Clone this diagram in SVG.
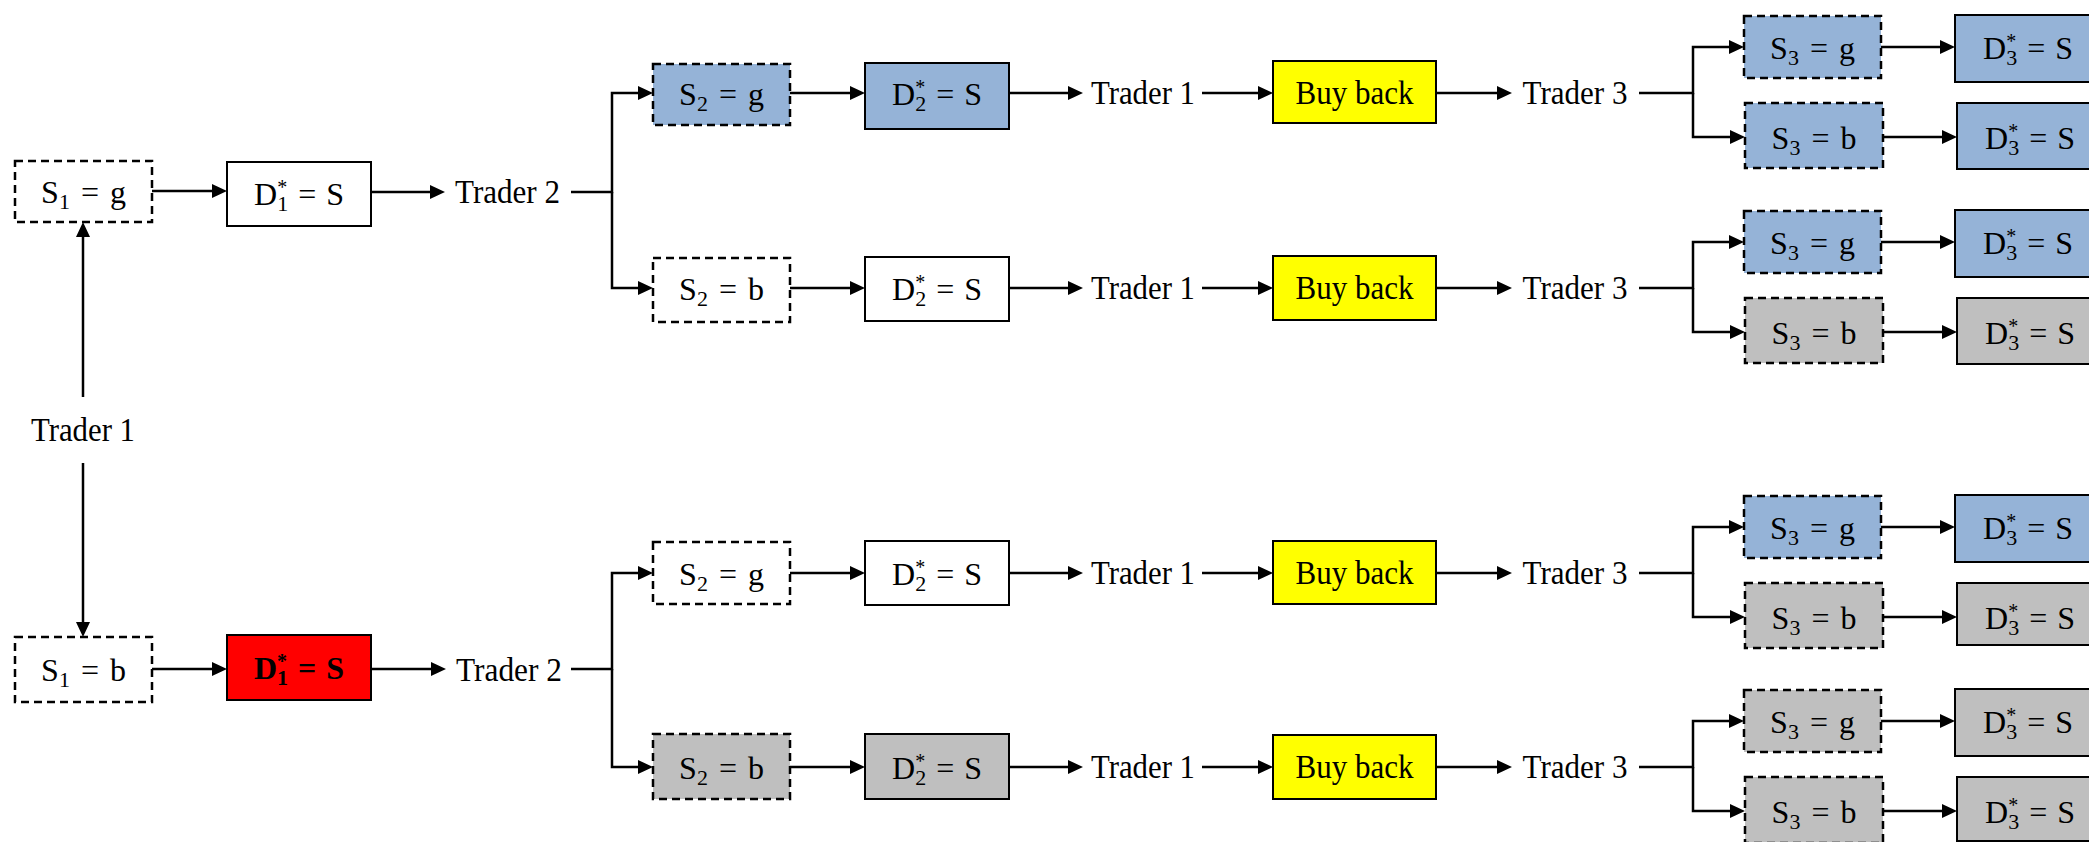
<svg xmlns="http://www.w3.org/2000/svg" width="2089" height="842" viewBox="0 0 2089 842">
<style>
.box{stroke:#000;stroke-width:2}
.dash{stroke:#000;stroke-width:2.5;stroke-dasharray:8 5}
.w{fill:#fff}.bl{fill:#95B3D7}.gr{fill:#BFBFBF}.ye{fill:#FFFF00}.rd{fill:#FF0000}
.m{font-family:"Liberation Serif","Times New Roman",serif;font-size:32px;fill:#000;text-anchor:middle}
.t{font-family:"Liberation Serif","Times New Roman",serif;font-size:33px;fill:#000;text-anchor:middle}
.sub{font-size:22px}
.sup{font-size:20px}
.b{font-weight:bold}
.c{fill:none;stroke:#000;stroke-width:2.5}
</style>
<defs>
<marker id="ah" markerUnits="userSpaceOnUse" markerWidth="16" markerHeight="14" refX="5" refY="7" orient="auto">
<path d="M0,0 L15,7 L0,14 z" fill="#000"/>
</marker>
</defs>
<rect width="2089" height="842" fill="#fff"/>

<g id="connectors" class="c" marker-end="url(#ah)">
<path d="M152,191 H217"/>
<path d="M371,192 H435"/>
<path d="M83,397 V232"/>
<path d="M83,463 V627"/>
<path d="M152,669 H217"/>
<path d="M371,669 H436"/>
<path d="M571,192 H612 V93 H643"/>
<path d="M612,192 V288 H643"/>
<path d="M571,669 H612 V573 H643"/>
<path d="M612,669 V767 H643"/>
<!-- row A R=93 -->
<path d="M790,93 H855"/><path d="M1009,93 H1073"/><path d="M1202,93 H1263"/><path d="M1436,93 H1502"/>
<path d="M1639,93 H1693 V47 H1734"/><path d="M1693,93 V137 H1735"/>
<path d="M1881,47 H1945"/><path d="M1883,137 H1947"/>
<!-- row B R=288 -->
<path d="M790,288 H855"/><path d="M1009,288 H1073"/><path d="M1202,288 H1263"/><path d="M1436,288 H1502"/>
<path d="M1639,288 H1693 V242 H1734"/><path d="M1693,288 V332 H1735"/>
<path d="M1881,242 H1945"/><path d="M1883,332 H1947"/>
<!-- row C R=573 -->
<path d="M790,573 H855"/><path d="M1009,573 H1073"/><path d="M1202,573 H1263"/><path d="M1436,573 H1502"/>
<path d="M1639,573 H1693 V527 H1734"/><path d="M1693,573 V617 H1735"/>
<path d="M1881,527 H1945"/><path d="M1883,617 H1947"/>
<!-- row D R=767 -->
<path d="M790,767 H855"/><path d="M1009,767 H1073"/><path d="M1202,767 H1263"/><path d="M1436,767 H1502"/>
<path d="M1639,767 H1693 V721 H1734"/><path d="M1693,767 V811 H1735"/>
<path d="M1881,721 H1945"/><path d="M1883,811 H1947"/>
</g>

<!-- left column -->
<g id="s1g"><rect class="dash w" x="15" y="161" width="137" height="61"/><text class="m" x="83.5" y="203">S<tspan class="sub" dy="6">1</tspan><tspan dy="-6" dx="11">=</tspan><tspan dx="11">g</tspan></text></g>
<g id="d1g"><rect class="box w" x="227" y="162" width="144" height="64"/><text class="m" x="299" y="205">D<tspan class="sup" dy="-11">*</tspan><tspan class="sub" dx="-10" dy="17">1</tspan><tspan dy="-6" dx="10">=</tspan><tspan dx="10">S</tspan></text></g>
<g id="trader1-left"><text class="t" x="83" y="441" textLength="104" lengthAdjust="spacingAndGlyphs">Trader 1</text></g>
<g id="s1b"><rect class="dash w" x="15" y="637" width="137" height="65"/><text class="m" x="83.5" y="681">S<tspan class="sub" dy="6">1</tspan><tspan dy="-6" dx="11">=</tspan><tspan dx="11">b</tspan></text></g>
<g id="d1b"><rect class="box rd" x="227" y="635" width="144" height="65"/><text class="m b" x="299" y="679">D<tspan class="sup" dy="-11">*</tspan><tspan class="sub" dx="-10" dy="17">1</tspan><tspan dy="-6" dx="10">=</tspan><tspan dx="10">S</tspan></text></g>
<g id="trader2-up"><text class="t" x="507.5" y="203" textLength="105" lengthAdjust="spacingAndGlyphs">Trader 2</text></g>
<g id="trader2-low"><text class="t" x="509" y="681" textLength="106" lengthAdjust="spacingAndGlyphs">Trader 2</text></g>

<!-- Row A -->
<g id="rowA-s2"><rect class="dash bl" x="653" y="64" width="137" height="61"/><text class="m" x="721.5" y="105">S<tspan class="sub" dy="6">2</tspan><tspan dy="-6" dx="11">=</tspan><tspan dx="11">g</tspan></text></g>
<g id="rowA-d2"><rect class="box bl" x="865" y="63" width="144" height="66"/><text class="m" x="937" y="105">D<tspan class="sup" dy="-11">*</tspan><tspan class="sub" dx="-10" dy="17">2</tspan><tspan dy="-6" dx="10">=</tspan><tspan dx="10">S</tspan></text></g>
<g id="rowA-t1"><text class="t" x="1143" y="104" textLength="104" lengthAdjust="spacingAndGlyphs">Trader 1</text></g>
<g id="rowA-bb"><rect class="box ye" x="1273" y="61" width="163" height="62"/><text class="t" x="1354.5" y="104" textLength="118" lengthAdjust="spacingAndGlyphs">Buy back</text></g>
<g id="rowA-t3"><text class="t" x="1575" y="104" textLength="105" lengthAdjust="spacingAndGlyphs">Trader 3</text></g>
<g id="rowA-s3g"><rect class="dash bl" x="1744" y="16" width="137" height="62"/><text class="m" x="1812.5" y="59">S<tspan class="sub" dy="6">3</tspan><tspan dy="-6" dx="11">=</tspan><tspan dx="11">g</tspan></text></g>
<g id="rowA-d3g"><rect class="box bl" x="1955" y="15" width="146" height="67"/><text class="m" x="2028" y="59">D<tspan class="sup" dy="-11">*</tspan><tspan class="sub" dx="-10" dy="17">3</tspan><tspan dy="-6" dx="10">=</tspan><tspan dx="10">S</tspan></text></g>
<g id="rowA-s3b"><rect class="dash bl" x="1745" y="103" width="138" height="65"/><text class="m" x="1814" y="149">S<tspan class="sub" dy="6">3</tspan><tspan dy="-6" dx="11">=</tspan><tspan dx="11">b</tspan></text></g>
<g id="rowA-d3b"><rect class="box bl" x="1957" y="103" width="146" height="66"/><text class="m" x="2030" y="149">D<tspan class="sup" dy="-11">*</tspan><tspan class="sub" dx="-10" dy="17">3</tspan><tspan dy="-6" dx="10">=</tspan><tspan dx="10">S</tspan></text></g>

<!-- Row B -->
<g id="rowB-s2"><rect class="dash w" x="653" y="258" width="137" height="64"/><text class="m" x="721.5" y="300">S<tspan class="sub" dy="6">2</tspan><tspan dy="-6" dx="11">=</tspan><tspan dx="11">b</tspan></text></g>
<g id="rowB-d2"><rect class="box w" x="865" y="257" width="144" height="64"/><text class="m" x="937" y="300">D<tspan class="sup" dy="-11">*</tspan><tspan class="sub" dx="-10" dy="17">2</tspan><tspan dy="-6" dx="10">=</tspan><tspan dx="10">S</tspan></text></g>
<g id="rowB-t1"><text class="t" x="1143" y="299" textLength="104" lengthAdjust="spacingAndGlyphs">Trader 1</text></g>
<g id="rowB-bb"><rect class="box ye" x="1273" y="256" width="163" height="64"/><text class="t" x="1354.5" y="299" textLength="118" lengthAdjust="spacingAndGlyphs">Buy back</text></g>
<g id="rowB-t3"><text class="t" x="1575" y="299" textLength="105" lengthAdjust="spacingAndGlyphs">Trader 3</text></g>
<g id="rowB-s3g"><rect class="dash bl" x="1744" y="211" width="137" height="62"/><text class="m" x="1812.5" y="254">S<tspan class="sub" dy="6">3</tspan><tspan dy="-6" dx="11">=</tspan><tspan dx="11">g</tspan></text></g>
<g id="rowB-d3g"><rect class="box bl" x="1955" y="210" width="146" height="67"/><text class="m" x="2028" y="254">D<tspan class="sup" dy="-11">*</tspan><tspan class="sub" dx="-10" dy="17">3</tspan><tspan dy="-6" dx="10">=</tspan><tspan dx="10">S</tspan></text></g>
<g id="rowB-s3b"><rect class="dash gr" x="1745" y="298" width="138" height="65"/><text class="m" x="1814" y="344">S<tspan class="sub" dy="6">3</tspan><tspan dy="-6" dx="11">=</tspan><tspan dx="11">b</tspan></text></g>
<g id="rowB-d3b"><rect class="box gr" x="1957" y="298" width="146" height="66"/><text class="m" x="2030" y="344">D<tspan class="sup" dy="-11">*</tspan><tspan class="sub" dx="-10" dy="17">3</tspan><tspan dy="-6" dx="10">=</tspan><tspan dx="10">S</tspan></text></g>

<!-- Row C -->
<g id="rowC-s2"><rect class="dash w" x="653" y="542" width="137" height="62"/><text class="m" x="721.5" y="585">S<tspan class="sub" dy="6">2</tspan><tspan dy="-6" dx="11">=</tspan><tspan dx="11">g</tspan></text></g>
<g id="rowC-d2"><rect class="box w" x="865" y="541" width="144" height="64"/><text class="m" x="937" y="585">D<tspan class="sup" dy="-11">*</tspan><tspan class="sub" dx="-10" dy="17">2</tspan><tspan dy="-6" dx="10">=</tspan><tspan dx="10">S</tspan></text></g>
<g id="rowC-t1"><text class="t" x="1143" y="584" textLength="104" lengthAdjust="spacingAndGlyphs">Trader 1</text></g>
<g id="rowC-bb"><rect class="box ye" x="1273" y="541" width="163" height="63"/><text class="t" x="1354.5" y="584" textLength="118" lengthAdjust="spacingAndGlyphs">Buy back</text></g>
<g id="rowC-t3"><text class="t" x="1575" y="584" textLength="105" lengthAdjust="spacingAndGlyphs">Trader 3</text></g>
<g id="rowC-s3g"><rect class="dash bl" x="1744" y="496" width="137" height="62"/><text class="m" x="1812.5" y="539">S<tspan class="sub" dy="6">3</tspan><tspan dy="-6" dx="11">=</tspan><tspan dx="11">g</tspan></text></g>
<g id="rowC-d3g"><rect class="box bl" x="1955" y="495" width="146" height="67"/><text class="m" x="2028" y="539">D<tspan class="sup" dy="-11">*</tspan><tspan class="sub" dx="-10" dy="17">3</tspan><tspan dy="-6" dx="10">=</tspan><tspan dx="10">S</tspan></text></g>
<g id="rowC-s3b"><rect class="dash gr" x="1745" y="583" width="138" height="65"/><text class="m" x="1814" y="629">S<tspan class="sub" dy="6">3</tspan><tspan dy="-6" dx="11">=</tspan><tspan dx="11">b</tspan></text></g>
<g id="rowC-d3b"><rect class="box gr" x="1957" y="583" width="146" height="62"/><text class="m" x="2030" y="629">D<tspan class="sup" dy="-11">*</tspan><tspan class="sub" dx="-10" dy="17">3</tspan><tspan dy="-6" dx="10">=</tspan><tspan dx="10">S</tspan></text></g>

<!-- Row D -->
<g id="rowD-s2"><rect class="dash gr" x="653" y="734" width="137" height="65"/><text class="m" x="721.5" y="779">S<tspan class="sub" dy="6">2</tspan><tspan dy="-6" dx="11">=</tspan><tspan dx="11">b</tspan></text></g>
<g id="rowD-d2"><rect class="box gr" x="865" y="734" width="144" height="65"/><text class="m" x="937" y="779">D<tspan class="sup" dy="-11">*</tspan><tspan class="sub" dx="-10" dy="17">2</tspan><tspan dy="-6" dx="10">=</tspan><tspan dx="10">S</tspan></text></g>
<g id="rowD-t1"><text class="t" x="1143" y="778" textLength="104" lengthAdjust="spacingAndGlyphs">Trader 1</text></g>
<g id="rowD-bb"><rect class="box ye" x="1273" y="735" width="163" height="64"/><text class="t" x="1354.5" y="778" textLength="118" lengthAdjust="spacingAndGlyphs">Buy back</text></g>
<g id="rowD-t3"><text class="t" x="1575" y="778" textLength="105" lengthAdjust="spacingAndGlyphs">Trader 3</text></g>
<g id="rowD-s3g"><rect class="dash gr" x="1744" y="690" width="137" height="62"/><text class="m" x="1812.5" y="733">S<tspan class="sub" dy="6">3</tspan><tspan dy="-6" dx="11">=</tspan><tspan dx="11">g</tspan></text></g>
<g id="rowD-d3g"><rect class="box gr" x="1955" y="689" width="146" height="67"/><text class="m" x="2028" y="733">D<tspan class="sup" dy="-11">*</tspan><tspan class="sub" dx="-10" dy="17">3</tspan><tspan dy="-6" dx="10">=</tspan><tspan dx="10">S</tspan></text></g>
<g id="rowD-s3b"><rect class="dash gr" x="1745" y="777" width="138" height="66"/><text class="m" x="1814" y="823">S<tspan class="sub" dy="6">3</tspan><tspan dy="-6" dx="11">=</tspan><tspan dx="11">b</tspan></text></g>
<g id="rowD-d3b"><rect class="box gr" x="1957" y="777" width="146" height="64"/><text class="m" x="2030" y="823">D<tspan class="sup" dy="-11">*</tspan><tspan class="sub" dx="-10" dy="17">3</tspan><tspan dy="-6" dx="10">=</tspan><tspan dx="10">S</tspan></text></g>
</svg>
